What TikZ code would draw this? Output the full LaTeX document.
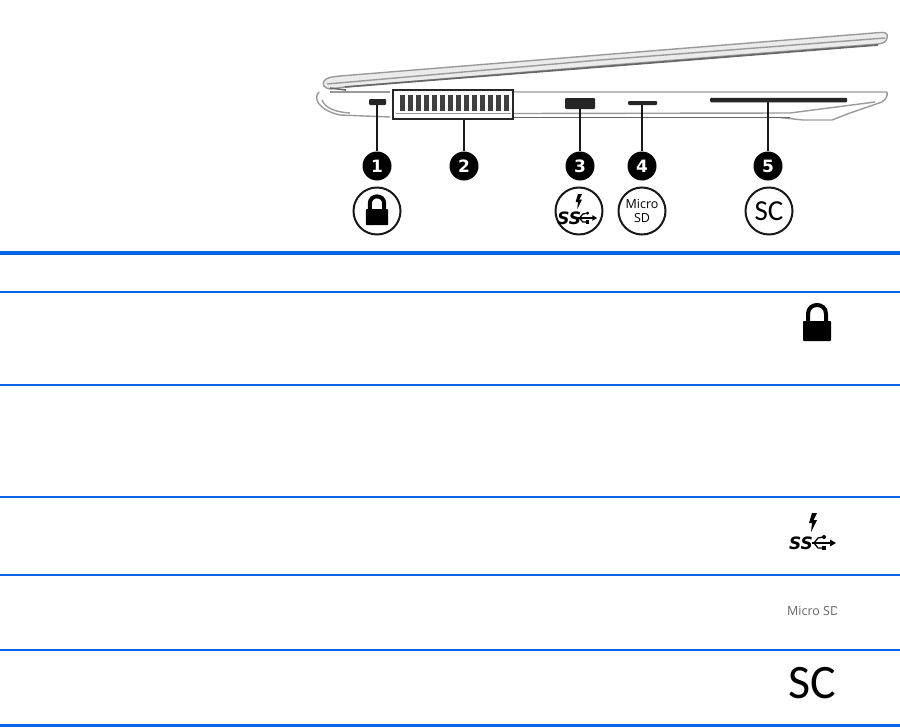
\documentclass[tikz,border=0pt]{standalone}
\usepackage{fontspec}
\setmainfont{Carlito}
\newfontfamily\numfont{DejaVu Sans}
\newfontfamily\widefont{Open Sans}
\definecolor{rule}{HTML}{0A64E6}
\definecolor{lap}{HTML}{9A9A9A}
\tikzset{
  heavy/.style={draw=rule,line width=3.4pt},
  mid/.style={draw=rule,line width=2pt},
  thin rule/.style={draw=rule,line width=1.1pt},
  leader/.style={draw=black!90,line width=1.5pt},
  numdot/.style={circle,fill=black,minimum size=29pt,inner sep=0pt,text=white,font=\numfont\bfseries\fontsize{17}{17}\selectfont},
  iconring/.style={circle,draw=black!90,line width=2pt,minimum size=47pt,inner sep=0pt},
  shell/.style={draw=lap,line width=1.4pt,line join=round},
  shell2/.style={draw=black!60,line width=1.6pt,line join=round},
  slot/.style={fill=black!85,rounded corners=1pt},
  pics/padlock/.style={code={
    \fill[black,rounded corners=.8pt] (-14,-1) rectangle (14,19);
    \draw[black,line width=4pt] (-9,0) -- (-9,-8) .. controls (-9,-20) and (9,-20) .. (9,-8) -- (9,0);
  }},
  pics/ssusb/.style={code={
    \node[inner sep=0pt,font=\numfont\bfseries\itshape\fontsize{17}{17}\selectfont] at (-11,0) {SS};
    \draw[black,line width=1.6pt] (0,0) -- (19,0);
    \draw[black,line width=1.3pt] (2,0) -- (6,-5) -- (11,-6);
    \draw[black,line width=1.3pt] (2,0) -- (6,5) -- (11,5);
    \fill[black] (12,-6) circle (2);
    \fill[black] (10,3) rectangle (14,7);
    \fill[black] (24,0) -- (18,-3.5) -- (18,3.5) -- cycle;
    \fill[black] (5,-30) -- (1.5,-23) -- (5,-23) -- (-1,-11) -- (0,-20) -- (-3,-20) -- (0,-30) -- cycle;
  }}
}
\begin{document}
\begin{tikzpicture}[x=1pt,y=-1pt]
\useasboundingbox (0,0) rectangle (900,728);
% table rules
\coordinate (r0l) at (0,253); \coordinate (r0r) at (900,253);
\coordinate (r1l) at (0,292); \coordinate (r1r) at (900,292);
\coordinate (r2l) at (0,385); \coordinate (r2r) at (900,385);
\coordinate (r3l) at (0,497); \coordinate (r3r) at (900,497);
\coordinate (r4l) at (0,575); \coordinate (r4r) at (900,575);
\coordinate (r5l) at (0,650); \coordinate (r5r) at (900,650);
\coordinate (r6l) at (0,725.5); \coordinate (r6r) at (900,725.5);
\draw[heavy] (r0l) -- (r0r);
\draw[mid] (r1l) -- (r1r);
\draw[thin rule] (r2l) -- (r2r);
\draw[thin rule] (r3l) -- (r3r);
\draw[thin rule] (r4l) -- (r4r);
\draw[thin rule] (r5l) -- (r5r);
\draw[heavy] (r6l) -- (r6r);
% lid
\draw[shell,fill=black!8] (324,81) .. controls (327,77) and (332,77) .. (340,76) -- (600,55) -- (880,32.5) .. controls (887,32) and (888,34) .. (887,38) .. controls (886,42) and (884,43) .. (878,44) -- (600,66) -- (345,87) -- (330,89) .. controls (324,88) and (322,85) .. (324,81) -- cycle;
\draw[shell] (327,84) -- (600,60) -- (885,38);
\draw[shell2] (330,88) -- (346,90);
\draw[shell2] (345,87) -- (600,67) -- (878,45);
% base
\draw[shell] (319,92) .. controls (313,98) and (318,110) .. (340,115) -- (390,117);
\draw[shell] (330,92) -- (390,92);
\draw[shell] (322,100) .. controls (325,108) and (335,112) .. (350,113);
\draw[shell] (514,92) -- (887,92) .. controls (888,96) and (886,99) .. (882,102) -- (850,113) -- (832,120) -- (803,120) -- (780,117.5);
\draw[shell] (514,113.5) -- (790,113) -- (875,102);
\draw[shell2] (514,117.5) -- (790,117.5);
% ports
\node[slot,minimum width=17pt,minimum height=6pt,inner sep=0pt] (lock) at (377.5,102) {};
\node[slot,minimum width=30pt,minimum height=11pt,inner sep=0pt] (usb) at (580,103.5) {};
\node[slot,minimum width=29pt,minimum height=4pt,inner sep=0pt] (sd) at (642.5,103) {};
\node[slot,minimum width=137pt,minimum height=4.5pt,inner sep=0pt] (sc) at (778.5,100) {};
% vent
\node[draw=black!85,fill=white,line width=1.7pt,minimum width=120pt,minimum height=29pt,inner sep=0pt] (vent) at (453,104.5) {};
\foreach \i in {0,...,13}{
  \fill[black!75] ({399.5+\i*8.0},95) rectangle ({404.5+\i*8.0},110.5);
}
\draw[lap,line width=.8pt] (396,113.5) -- (511,113.5);
% numbered dots
\node[numdot] (n1) at (377,166) {1};
\node[numdot] (n2) at (464,166) {2};
\node[numdot] (n3) at (580,166) {3};
\node[numdot] (n4) at (642,166) {4};
\node[numdot] (n5) at (768,166) {5};
% leaders
\draw[leader] (lock.south -| n1) -- (n1);
\draw[leader] (vent.south -| n2) -- (n2);
\draw[leader] (usb.south -| n3) -- (n3);
\draw[leader] (sd.south -| n4) -- (n4);
\draw[leader] (sc.south -| n5) -- (n5);
% ringed icons
\node[iconring] (i1) at (377,211) {};
\pic[scale=.8] at (377,210) {padlock};
\node[iconring] (i3) at (579,211) {};
\pic[scale=.8] at (578,218) {ssusb};
\node[iconring,align=center,font=\widefont\fontsize{12.5}{13.5}\selectfont] (i4) at (642,211) {Micro\\SD};
\node[iconring,font=\fontsize{29}{29}\selectfont] (i5) at (769,211) {SC};
% table icons
\pic at (817,322) {padlock};
\pic at (812,543) {ssusb};
\begin{scope}
\clip (780,600) rectangle (836,620);
\node[anchor=west,inner sep=0pt,text=black!60,font=\widefont\fontsize{12.5}{12.5}\selectfont] (t4) at (787,611) {Micro SD};
\end{scope}
\node[font=\fontsize{48}{48}\selectfont,inner sep=0pt] (t5) at (812,683) {SC};
\end{tikzpicture}
\end{document}
